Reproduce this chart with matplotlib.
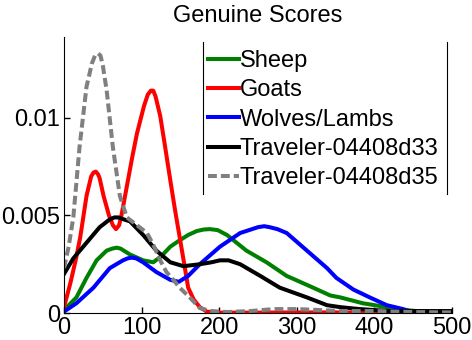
import matplotlib
matplotlib.use("Agg")
import matplotlib.pyplot as plt
from matplotlib.lines import Line2D

plt.rcParams['font.family'] = ['Liberation Sans', 'DejaVu Sans']

labels = ["Sheep", "Goats", "Wolves/Lambs", "Traveler-04408d33", "Traveler-04408d35"]

sheep_x = [0, 16, 29, 42, 55, 62, 68, 73, 77, 85, 102, 115, 125, 137, 148, 160, 171, 180, 188,
           198, 210, 235, 261, 287, 321, 343, 356, 385, 416, 440, 468]
sheep_y = [0.00015, 0.0008, 0.0018, 0.0027, 0.0032, 0.0033, 0.00335, 0.0033, 0.0032, 0.0030,
           0.0027, 0.0026, 0.0029, 0.0034, 0.0037, 0.0040, 0.0042, 0.00428, 0.0043, 0.00425,
           0.0040, 0.0032, 0.0026, 0.0019, 0.0013, 0.0009, 0.0008, 0.0005, 0.0003, 0.00015,
           0.00005]

goats_x = [0, 8, 15, 21, 29, 35, 38, 41, 44, 46, 51, 58, 63, 67, 71, 74, 81, 88, 94, 103, 108,
           112, 115, 118, 124, 130, 137, 143, 149, 155, 160, 167, 175, 184, 200, 250, 300, 350,
           400, 445]
goats_y = [0.0003, 0.0015, 0.0027, 0.0039, 0.0060, 0.0070, 0.0072, 0.00725, 0.0071, 0.0069,
           0.0060, 0.0050, 0.0045, 0.0043, 0.0045, 0.0050, 0.0065, 0.0080, 0.0092, 0.0106,
           0.0112, 0.0114, 0.0114, 0.0111, 0.0101, 0.0086, 0.0068, 0.0053, 0.0039, 0.0025,
           0.0013, 0.0007, 0.0003, 0.00007, 0.00002, 0.00002, 0.00003, 0.00003, 0.00002, 0.0]

wolves_x = [0, 16, 38, 59, 76, 82, 87, 93, 102, 119, 137, 148, 160, 175, 201, 227, 250, 258,
            265, 275, 287, 313, 339, 351, 373, 394, 416, 437, 445]
wolves_y = [0.00007, 0.0005, 0.0013, 0.0023, 0.0027, 0.0028, 0.00284, 0.0028, 0.0026, 0.0021,
            0.0017, 0.0016, 0.0019, 0.0025, 0.0034, 0.0041, 0.0044, 0.00445, 0.0044, 0.0043,
            0.0041, 0.0032, 0.0023, 0.0018, 0.0012, 0.0008, 0.0004, 0.0002, 0.0001]

d33_x = [0, 12, 29, 46, 59, 65, 70, 77, 85, 102, 119, 137, 154, 175, 190, 201, 212, 227, 253,
         278, 313, 339, 356, 381, 420, 460, 500]
d33_y = [0.0020, 0.0028, 0.0036, 0.0044, 0.0048, 0.0049, 0.0049, 0.0048, 0.0047, 0.0040,
         0.0032, 0.0026, 0.0024, 0.0025, 0.0026, 0.0027, 0.0027, 0.0025, 0.0019, 0.0013,
         0.0008, 0.0004, 0.0003, 0.0002, 0.0001, 0.0001, 0.0001]

d35_x = [0, 6, 12, 20, 29, 36, 40, 44, 47, 50, 55, 63, 72, 81, 94, 107, 115, 124, 132, 141,
         149, 162, 175, 190, 210, 240, 270, 300, 330, 360, 400, 450, 500]
d35_y = [0.0023, 0.0034, 0.0049, 0.0085, 0.0116, 0.0128, 0.0132, 0.0133, 0.0132, 0.0127,
         0.0114, 0.0085, 0.0060, 0.0049, 0.0045, 0.0041, 0.0035, 0.0027, 0.0021, 0.0017,
         0.0013, 0.0008, 0.00025, 0.0001, 0.00005, 0.0001, 0.0002, 0.0002, 0.00015, 0.0001,
         0.0001, 0.00005, 0.00003]

xticks = [0, 100, 200, 300, 400, 500]
yticks = [0, 0.005, 0.01]
ytick_labels = ["0", "0.005", "0.01"]

fs = 17
lw = 2.9

fig = plt.figure(figsize=(4.72, 3.40), dpi=100)
ax = fig.add_axes([64 / 472, 1 - 313 / 340, (452 - 64) / 472, (313 - 37) / 340])

ax.plot(sheep_x, sheep_y, color="#008000", lw=lw, label=labels[0])
ax.plot(goats_x, goats_y, color="#ff0000", lw=lw, label=labels[1])
ax.plot(wolves_x, wolves_y, color="#0000ff", lw=lw, label=labels[2])
ax.plot(d33_x, d33_y, color="black", lw=lw, label=labels[3])
ax.plot(d35_x, d35_y, color="#808080", lw=lw, dashes=(2.2, 1.0), label=labels[4])

ax.set_xlim(0, 500)
ax.set_ylim(0, 0.01415)
ax.set_xticks(xticks)
ax.set_xticklabels([str(t) for t in xticks], fontsize=fs)
ax.set_yticks(yticks)
ax.set_yticklabels(ytick_labels, fontsize=fs)
ax.tick_params(direction="in", length=4, width=1, pad=3)
ax.spines["top"].set_visible(False)
ax.spines["right"].set_visible(False)

ax.set_title("Genuine Scores", fontsize=fs, pad=11)

leg = ax.legend(loc="upper left", bbox_to_anchor=(208 / 472, 1 - 50 / 340),
                bbox_transform=fig.transFigure, frameon=False, fontsize=fs,
                borderpad=0, borderaxespad=0, handlelength=1.33, handletextpad=0.0,
                labelspacing=0.31)

# legend box: only the vertical sides show in the reference
for xf in (203 / 472, 447 / 472):
    fig.add_artist(Line2D([xf, xf], [1 - 194 / 340, 1 - 42 / 340], color="black", lw=0.8))

fig.savefig("out.png", dpi=100)
